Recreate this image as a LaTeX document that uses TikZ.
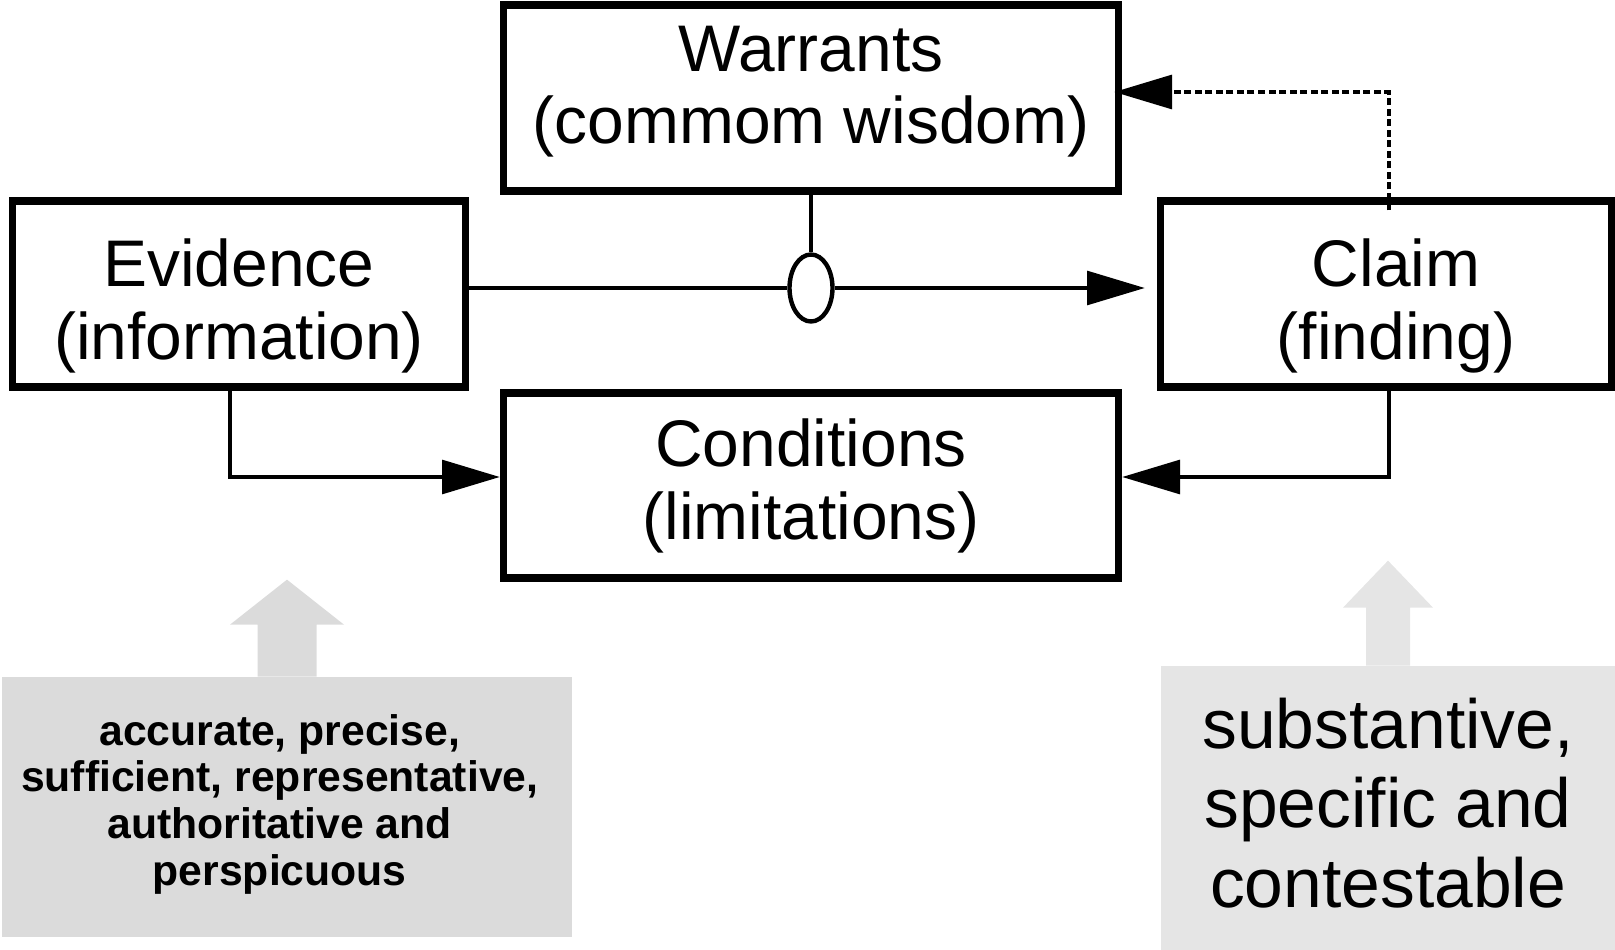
\documentclass[tikz,border=0pt]{standalone}
\usepackage{fontspec}
\setmainfont{Liberation Sans}
\usetikzlibrary{arrows.meta, shapes.geometric, positioning, calc}
\definecolor{notegray}{gray}{0.86}
\definecolor{notelight}{gray}{0.9}

\begin{document}
\begin{tikzpicture}[
    blk/.style={draw, line width=4pt, inner sep=0pt, align=center,
        minimum height=3.72cm, font=\fontsize{37.5}{41.5}\selectfont},
    link/.style={line width=2.8pt},
    tip/.style={-{Triangle[length=33pt,width=19pt]}},
    dots/.style={line width=2.8pt, dash pattern=on 4pt off 2pt},
    note/.style={inner sep=0pt, align=center}
]
    \useasboundingbox (0,0) rectangle (32.3,-19);
    %
    \node[blk, minimum width=12.3cm, text depth=15pt] (warrants) at (16.22,-1.96) {Warrants\\(commom wisdom)};
    \node[blk, minimum width=9.06cm, text height=82pt] (evidence) at (4.78,-5.88) {Evidence\\(information)};
    \node[blk, minimum width=9.02cm, text height=82pt] (claim) at (27.72,-5.88)
        {\hspace*{0.4cm}Claim\\\hspace*{0.4cm}(finding)};
    \node[blk, minimum width=12.3cm, minimum height=3.7cm] (conditions) at (16.22,-9.71) {Conditions\\(limitations)};
    \node[draw, ellipse, line width=2.5pt, inner sep=0pt, minimum width=0.86cm, minimum height=1.34cm] (junction) at (16.22,-5.76) {};
    %
    \draw[link] (warrants.south) -- (junction.north);
    \draw[link] (evidence.east |- junction) -- (junction.west);
    \draw[link, tip, shorten >=0.24cm] (junction.east) -- (claim.west |- junction);
    %
    \coordinate (dbend) at (27.78,-1.84);
    \draw[dots, tip, shorten <=-0.26cm, shorten >=-0.16cm] (claim.north -| dbend) -- (dbend) -- (warrants.east |- dbend);
    %
    \coordinate (elow) at (4.6,-9.54);
    \coordinate (clow) at (27.78,-9.54);
    \draw[link, tip] (evidence.south -| elow) -- (elow) -- (conditions.west |- elow);
    \draw[link, tip] (claim.south -| clow) -- (clow) -- (conditions.east |- clow);
    %
    \node[note, fill=notegray, minimum width=11.4cm, minimum height=5.2cm, text depth=8pt,
        font=\fontsize{24.3}{26.7}\selectfont\bfseries] (evnote) at (5.74,-16.14)
        {\hspace*{-0.29cm}accurate, precise,\\\hspace*{-0.29cm}sufficient, representative,\\
         \hspace*{-0.29cm}authoritative and\\\hspace*{-0.29cm}perspicuous};
    \node[note, fill=notelight, minimum width=9.08cm, minimum height=5.68cm, text depth=6pt,
        font=\fontsize{39.6}{45}\selectfont] (clnote) at (27.76,-16.16)
        {substantive,\\specific and\\contestable};
    %
    \fill[notegray] ([xshift=-0.59cm]evnote.north) -- ++(0,1.04) -- ++(-0.55,0) -- ++(1.14,0.9)
        -- ++(1.14,-0.9) -- ++(-0.55,0) -- ++(0,-1.04) -- cycle;
    \fill[notelight] ([xshift=-0.44cm]clnote.north) -- ++(0,1.16) -- ++(-0.46,0) -- ++(0.9,0.94)
        -- ++(0.9,-0.94) -- ++(-0.46,0) -- ++(0,-1.16) -- cycle;
\end{tikzpicture}
\end{document}
